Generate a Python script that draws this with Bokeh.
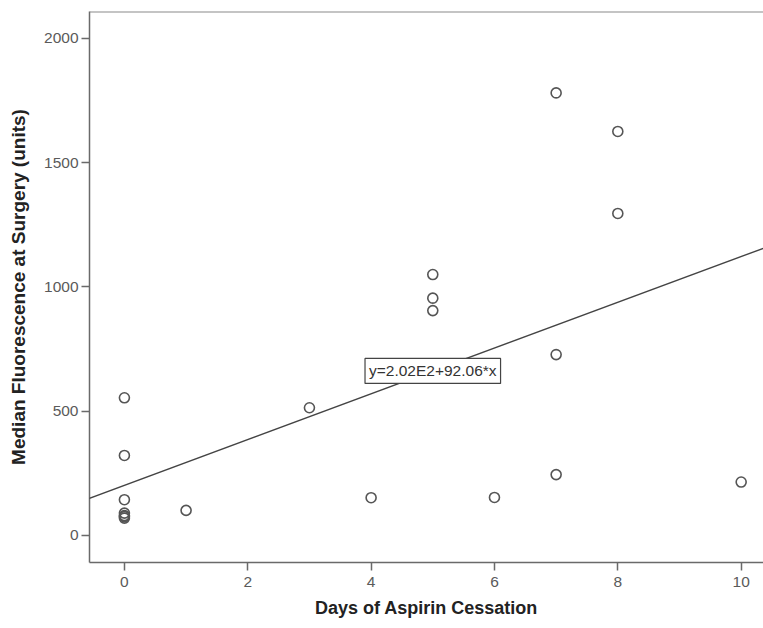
from bokeh.plotting import figure
from bokeh.models import Range1d, Slope, Label, Span, FixedTicker
from bokeh.embed import file_html
from bokeh.resources import INLINE

# Data
days = [0, 0, 0, 0, 0, 0, 0, 1, 3, 4, 5, 5, 5, 6, 7, 7, 7, 8, 8, 10]
fluorescence = [554, 322, 144, 90, 80, 76, 70, 101, 514, 152,
                1050, 955, 905, 153, 1781, 728, 245, 1626, 1296, 215]

fit_intercept = 202.0
fit_slope = 92.06
fit_label = "y=2.02E2+92.06*x"

x_ticks = [0, 2, 4, 6, 8, 10]
y_ticks = [0, 500, 1000, 1500, 2000]

x_title = "Days of Aspirin Cessation"
y_title = "Median Fluorescence at Surgery (units)"

FONT = "Liberation Sans"
AXIS_COL = "#6a6a6a"
TICK_TEXT = "#5a5a5a"

p = figure(width=763, height=628, output_backend="svg", toolbar_location=None,
           x_range=Range1d(-0.566, 10.362), y_range=Range1d(-108.7, 2108.6),
           min_border_left=89, min_border_right=0, min_border_top=11,
           min_border_bottom=66)

p.background_fill_color = "white"
p.border_fill_color = "white"
p.outline_line_color = None
p.xgrid.visible = False
p.ygrid.visible = False

# top frame line
p.add_layout(Span(location=p.y_range.end, dimension="width",
                  line_color="#8a8a8a", line_width=2))

for ax in (p.xaxis[0], p.yaxis[0]):
    ax.axis_line_color = AXIS_COL
    ax.axis_line_width = 1.5
    ax.major_tick_line_color = AXIS_COL
    ax.major_tick_line_width = 1.5
    ax.major_tick_in = 0
    ax.major_tick_out = 8
    ax.minor_tick_line_color = None
    ax.major_label_text_font = FONT
    ax.major_label_text_font_size = "15.5px"
    ax.major_label_text_color = TICK_TEXT
    ax.axis_label_text_font = FONT
    ax.axis_label_text_font_style = "bold"
    ax.axis_label_text_color = "#222222"

p.xaxis.ticker = FixedTicker(ticks=x_ticks)
p.yaxis.ticker = FixedTicker(ticks=y_ticks)
p.xaxis.axis_label = x_title
p.yaxis.axis_label = y_title
p.xaxis.axis_label_text_font_size = "18px"
p.yaxis.axis_label_text_font_size = "19px"
p.xaxis.major_label_standoff = 6
p.yaxis.major_label_standoff = 3
p.xaxis.axis_label_standoff = 8
p.yaxis.axis_label_standoff = 12

p.scatter(days, fluorescence, marker="circle", size=10, fill_color=None,
          line_color="#555555", line_width=1.6)

p.add_layout(Slope(gradient=fit_slope, y_intercept=fit_intercept,
                   line_color="#444444", line_width=1.4))

label_x = 5
p.add_layout(Label(x=label_x, y=fit_intercept + fit_slope * label_x, text=fit_label,
                   text_align="center", text_baseline="middle",
                   text_font=FONT, text_font_size="15.5px", text_color="#333333",
                   background_fill_color="white",
                   border_line_color="#444444", border_line_width=1.2,
                   padding=4))

open("out.html", "w").write(file_html(p, INLINE))
